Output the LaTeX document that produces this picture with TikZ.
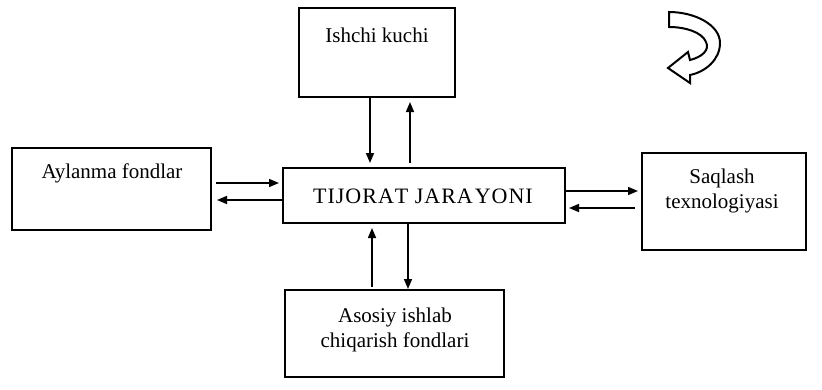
\documentclass[tikz,border=0pt]{standalone}
\usepackage{fontspec}
\setmainfont{Liberation Serif}
\usetikzlibrary{arrows.meta}
\begin{document}
\begin{tikzpicture}[x=1pt,y=-1pt,
  box/.style={draw,line width=2.2pt},
  lbl/.style={font=\fontsize{21}{25}\selectfont,align=center,inner sep=0pt},
  arr/.style={line width=1.5pt,-{Triangle[length=10pt,width=8pt]}}]
\useasboundingbox (0,0) rectangle (822,389);
% boxes
\draw[box] (299,8) rectangle (455,97);
\node[lbl] (ik) at (377,35) {Ishchi kuchi};
\draw[box] (12,148) rectangle (211,230);
\node[lbl] (af) at (112,173) {Aylanma fondlar};
\draw[box] (283,168) rectangle (565,223);
\node[lbl,font=\fontsize{22}{26}\selectfont] (tj) at (423,196) {T\kern1pt I\kern1pt J\kern1pt O\kern1pt R\kern1pt A\kern1pt T\kern1pt{} J\kern1pt A\kern1pt R\kern1pt A\kern2pt Y\kern1pt O\kern1pt N\kern1pt I};
\draw[box] (642,153) rectangle (806,250);
\node[lbl] (sq) at (722,191) {Saqlash\\texnologiyasi};
\draw[box] (285,290) rectangle (504,377);
\node[lbl] (as) at (395,330) {Asosiy ishlab\\chiqarish fondlari};
% named anchors
\coordinate (a1s) at (370,97);  \coordinate (a1e) at (370,163);
\coordinate (a2s) at (410,163); \coordinate (a2e) at (410,102);
\coordinate (a3s) at (216,183); \coordinate (a3e) at (279,183);
\coordinate (a4s) at (282,200); \coordinate (a4e) at (217,200);
\coordinate (a5s) at (566,191); \coordinate (a5e) at (638,191);
\coordinate (a6s) at (635,208); \coordinate (a6e) at (569,208);
\coordinate (a7s) at (372,287); \coordinate (a7e) at (372,228);
\coordinate (a8s) at (408,223); \coordinate (a8e) at (408,289);
\draw[arr] (a1s) -- (a1e);
\draw[arr] (a2s) -- (a2e);
\draw[arr] (a3s) -- (a3e);
\draw[arr] (a4s) -- (a4e);
\draw[arr] (a5s) -- (a5e);
\draw[arr] (a6s) -- (a6e);
\draw[arr] (a7s) -- (a7e);
\draw[arr] (a8s) -- (a8e);
% curved hollow arrow
\draw[line width=2pt,fill=white,line join=miter]
  (669,12) .. controls (695,12) and (720,25) .. (720,43)
  .. controls (720,60) and (705,72) .. (690,75)
  -- (690,83) -- (668,68) -- (688,52) -- (690,60)
  .. controls (702,57) and (710,50) .. (706,42)
  .. controls (702,32) and (685,27) .. (669,27) -- cycle;
\end{tikzpicture}
\end{document}
